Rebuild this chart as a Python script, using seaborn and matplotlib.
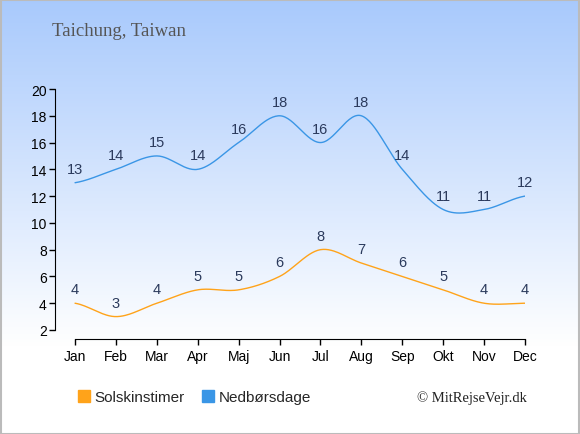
import numpy as np
import pandas as pd
import seaborn as sns
import matplotlib.pyplot as plt
from matplotlib.lines import Line2D

# Data
months = ['Jan', 'Feb', 'Mar', 'Apr', 'Maj', 'Jun', 'Jul', 'Aug', 'Sep', 'Okt', 'Nov', 'Dec']
sun_hours = [4, 3, 4, 5, 5, 6, 8, 7, 6, 5, 4, 4]
rain_days = [13, 14, 15, 14, 16, 18, 16, 18, 14, 11, 11, 12]

orange = '#ffa31a'
blue = '#3a96e6'
label_col = '#2b3a5c'


def smooth(y, n=30):
    # Catmull-Rom spline through the points
    y = np.asarray(y, dtype=float)
    p = np.concatenate([[y[0]], y, [y[-1]]])
    xs, ys = [], []
    for i in range(len(y) - 1):
        p0, p1, p2, p3 = p[i], p[i + 1], p[i + 2], p[i + 3]
        t = np.linspace(0, 1, n, endpoint=False)
        v = 0.5 * (2 * p1 + (-p0 + p2) * t + (2 * p0 - 5 * p1 + 4 * p2 - p3) * t ** 2
                   + (-p0 + 3 * p1 - 3 * p2 + p3) * t ** 3)
        xs.append(i + t)
        ys.append(v)
    xs.append([len(y) - 1])
    ys.append([y[-1]])
    return np.concatenate(xs), np.concatenate(ys)


sns.set_style('white')
plt.rcParams['font.family'] = ['Liberation Sans', 'DejaVu Sans']
fig = plt.figure(figsize=(5.8, 4.35), dpi=100)

# background gradient, light blue at the top fading to white
bg = fig.add_axes([0, 0, 1, 1], zorder=-10)
grad = np.linspace(0, 1, 256)
top = np.array([0.66, 0.79, 0.99])
colors = np.clip(top[None, :] + (1 - top[None, :]) * np.clip(grad[:, None] / 0.8, 0, 1), 0, 1)
bg.imshow(colors[:, None, :], aspect='auto', extent=[0, 1, 0, 1])
bg.set_xlim(0, 1)
bg.set_ylim(0, 1)
bg.axis('off')
bg.add_patch(plt.Rectangle((0.001, 0.001), 0.997, 0.996, fill=False, ec='#bbbbbb', lw=1.5,
                           transform=bg.transAxes))

ax = fig.add_axes([55 / 580, (435 - 331) / 435, 470 / 580, 241 / 435])
ax.patch.set_alpha(0)

xs, ys = smooth(sun_hours)
sns.lineplot(x=xs, y=ys, ax=ax, color=orange, lw=1, sort=False)
xr, yr = smooth(rain_days)
sns.lineplot(x=xr, y=yr, ax=ax, color=blue, lw=1, sort=False)

for i, v in enumerate(sun_hours):
    ax.annotate(str(v), (i, v), xytext=(0, 5), textcoords='offset points', ha='center',
                va='bottom', fontsize=10.5, color=label_col, annotation_clip=False)
for i, v in enumerate(rain_days):
    ax.annotate(str(v), (i, v), xytext=(0, 5), textcoords='offset points', ha='center',
                va='bottom', fontsize=10.5, color=label_col, annotation_clip=False)

ax.set_xlim(-0.49, 11)
ax.set_ylim(2, 20)
ax.set_xticks(range(12))
ax.set_xticklabels(months)
ax.set_yticks(range(2, 21, 2))
ax.tick_params(axis='both', labelsize=10, length=4, width=1, color='black', labelcolor='#000000')
ax.tick_params(axis='y', pad=2)
ax.tick_params(axis='x', pad=3)
for s in ['top', 'right']:
    ax.spines[s].set_visible(False)
ax.spines['left'].set_color('black')
ax.spines['bottom'].set_color('black')
ax.spines['bottom'].set_position(('outward', 6.5))
ax.spines['bottom'].set_bounds(0, 11)
ax.spines['left'].set_bounds(2, 20)
ax.xaxis.set_ticks_position('bottom')
ax.yaxis.set_ticks_position('left')
ax.grid(False)

fig.text(52 / 580, 1 - 32 / 435, 'Taichung, Taiwan', fontsize=13.5, color='#555555',
         family='Liberation Serif', va='center')
fig.text(527 / 580, 1 - 398 / 435, '\u00a9 MitRejseVejr.dk', fontsize=10.5, color='#222222',
         family='Liberation Serif', va='center', ha='right')

handles = [Line2D([], [], marker='s', ls='', color=orange, markersize=8),
           Line2D([], [], marker='s', ls='', color=blue, markersize=8)]
fig.legend(handles, ['Solskinstimer', 'Nedbørsdage'], loc='center left',
           bbox_to_anchor=(64 / 580, 1 - 398 / 435), ncol=2, frameon=False, fontsize=11,
           handletextpad=0.3, columnspacing=1.1, handlelength=0.8)

fig.savefig('out.png', dpi=100)
